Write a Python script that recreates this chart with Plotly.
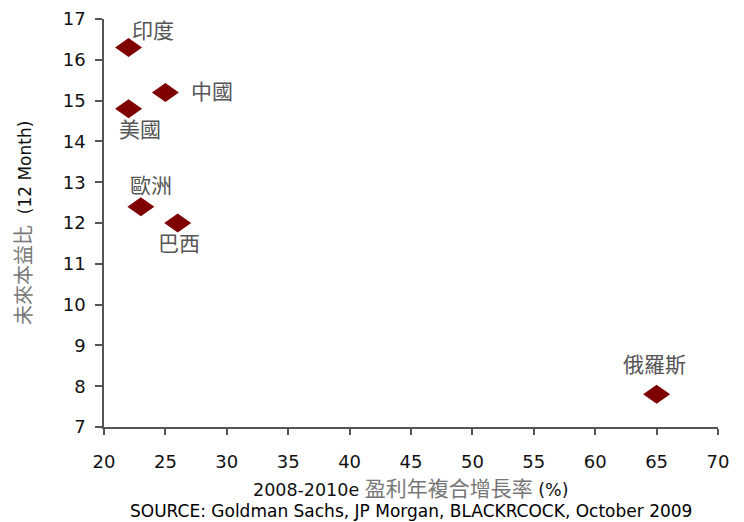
import plotly.graph_objects as go

regions = ["印度", "中國", "美國", "歐洲", "巴西", "俄羅斯"]
growth = [22, 25, 22, 23, 26, 65]
pe = [16.3, 15.2, 14.8, 12.4, 12.0, 7.8]
x_ticks = [20, 25, 30, 35, 40, 45, 50, 55, 60, 65, 70]
y_ticks = [7, 8, 9, 10, 11, 12, 13, 14, 15, 16, 17]

# label offsets (pixels) relative to each point
label_shift = {
    "印度": (24, 19),
    "中國": (47, 2),
    "美國": (11, -19),
    "歐洲": (10, 23),
    "巴西": (1, -19),
    "俄羅斯": (-2, 31),
}

cjk = "Noto Sans CJK TC"
num = "DejaVu Sans"
marker_color = "#7f0000"
diamond_path = "M -13.5 0 L 0 9.5 L 13.5 0 L 0 -9.5 Z"

fig = go.Figure()
fig.add_trace(go.Scatter(
    x=growth, y=pe, mode="markers",
    marker=dict(symbol="diamond", size=18, color=marker_color, opacity=0),
    hoverinfo="skip", showlegend=False,
))

for gx, py in zip(growth, pe):
    fig.add_shape(type="path", xref="x", yref="y", xsizemode="pixel", ysizemode="pixel",
                  xanchor=gx, yanchor=py, path=diamond_path,
                  fillcolor=marker_color, line=dict(width=0))

for name, gx, py in zip(regions, growth, pe):
    dx, dy = label_shift[name]
    fig.add_annotation(x=gx, y=py, xref="x", yref="y", text=name,
                       showarrow=False, xshift=dx, yshift=dy,
                       font=dict(family=cjk, size=21, color="#555555"))

fig.add_annotation(
    x=0.5, y=-0.148, xref="paper", yref="paper", showarrow=False,
    text="2008-2010e <span style='font-family:Noto Sans CJK TC;font-size:21px;color:#777777'>盈利年複合增長率</span> (%)",
    font=dict(family=num, size=17.5, color="#111111"), xanchor="center", yanchor="middle")

fig.add_annotation(
    x=0.5, y=-0.207, xref="paper", yref="paper", showarrow=False,
    text="SOURCE: Goldman Sachs, JP Morgan, BLACKRCOCK, October 2009",
    font=dict(family=num, size=17, color="#000000"), xanchor="center", yanchor="middle")

fig.add_annotation(
    x=-0.1335, y=0.5, xref="paper", yref="paper", showarrow=False, textangle=-90,
    text="<span style='font-family:Noto Sans CJK TC;font-size:20px;color:#777777'>未來本益比</span>  (12 Month)",
    font=dict(family=num, size=17, color="#111111"), xanchor="center", yanchor="middle")

# page body has an 8px margin, so the figure is sized to fill the rest of the window
fig.update_layout(
    width=736, height=514,
    margin=dict(l=96, r=26, t=11, b=95),
    plot_bgcolor="white", paper_bgcolor="white",
    xaxis=dict(range=[20, 70], tickvals=x_ticks, showgrid=False, zeroline=False,
               automargin=False,
               showline=True, linecolor="#555555", linewidth=1.5,
               ticks="outside", ticklen=6, tickcolor="#555555", tickwidth=1.5,
               tickfont=dict(family=num, size=18, color="#111111"),
               ticklabelstandoff=12),
    yaxis=dict(range=[7, 17], tickvals=y_ticks, showgrid=False, zeroline=False,
               automargin=False,
               showline=True, linecolor="#555555", linewidth=1.5,
               ticks="outside", ticklen=7, tickcolor="#555555", tickwidth=1.5,
               tickfont=dict(family=num, size=18, color="#111111"),
               ticklabelstandoff=6),
)

fig.write_html("out.html")
